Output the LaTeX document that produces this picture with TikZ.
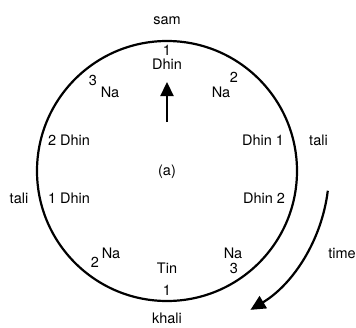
\documentclass[tikz,border=0pt]{standalone}
\usepackage{fontspec}
\setmainfont{TeX Gyre Heros}
\usepackage{tikz}
\usetikzlibrary{arrows.meta}

\begin{document}
\begin{tikzpicture}[x=1pt,y=1pt,>=Stealth,
    lbl/.style={font=\fontsize{14.5}{17}\selectfont,inner sep=0pt},
    idx/.style={font=\fontsize{14.5}{17}\selectfont,inner sep=0pt}]
  \useasboundingbox (-167,-156) rectangle (189,171);
  % cycle
  \draw[line width=2.2pt] (0,0) circle (130);
  \node[lbl] (sam) at (0,150) {sam};
  \node[lbl,anchor=base] (khali) at (0,-152.5) {khali};
  \node[lbl] (taliR) at (151.5,31) {tali};
  \node[lbl] (taliL) at (-148,-27) {tali};
  \node[lbl] (lab) at (0,-1) {(a)};
  % bols round the cycle
  \node[idx] (n1) at (0,121) {1};
  \node[lbl] (dhin1) at (0,107) {Dhin};
  \node[lbl] (na2) at (54,79) {Na};
  \node[idx] (n2) at (67,94) {2};
  \node[lbl] (dhinR1) at (96,31) {Dhin 1};
  \node[lbl] (dhinR2) at (97,-27) {Dhin 2};
  \node[lbl] (na3) at (66,-82) {Na};
  \node[idx] (n3) at (67,-97) {3};
  \node[lbl] (tin) at (0,-97) {Tin};
  \node[idx] (n1b) at (0,-119) {1};
  \node[lbl] (na2b) at (-56,-82) {Na};
  \node[idx] (n2b) at (-72,-91) {2};
  \node[lbl] (dhinL1) at (-98,-27) {1 Dhin};
  \node[lbl] (dhinL2) at (-98,31) {2 Dhin};
  \node[lbl] (na3b) at (-57,79) {Na};
  \node[idx] (n3b) at (-74,91) {3};
  % pointer
  \coordinate (tail) at (0,49);
  \coordinate (head) at (0,89);
  \draw[line width=2.2pt,-{Triangle[length=14pt,width=13pt]}] (tail) -- (head);
  % direction of time
  \coordinate (tstart) at (-7:162);
  \draw[line width=2.2pt,-{Triangle[length=15pt,width=14pt]}] (tstart) arc[start angle=-7,end angle=-59,radius=162];
  \node[lbl] (time) at (175,-82) {time};
\end{tikzpicture}
\end{document}
